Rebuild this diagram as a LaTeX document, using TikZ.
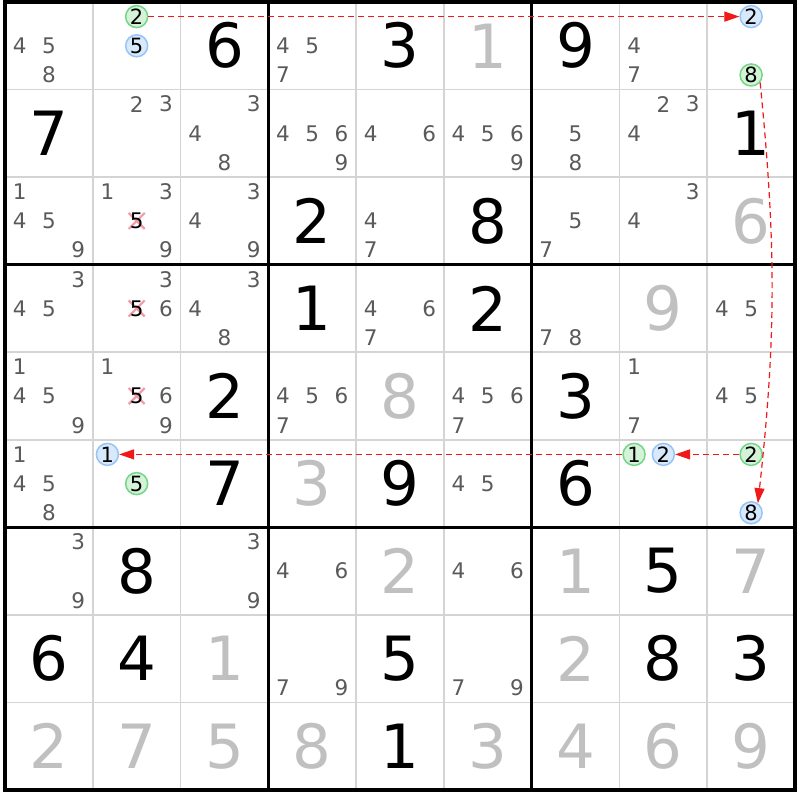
\documentclass[tikz,border=0pt]{standalone}
\usepackage{fontspec}
\setmainfont{DejaVu Sans}
\usetikzlibrary{arrows.meta}

\definecolor{candgray}{HTML}{5A5A5A}
\definecolor{solvedgray}{HTML}{C0C0C0}
\definecolor{gridgray}{HTML}{D4D4D4}
\definecolor{ongreen}{HTML}{D4F3D8}
\definecolor{ongreenline}{HTML}{74D686}
\definecolor{onblue}{HTML}{D8E9FC}
\definecolor{onblueline}{HTML}{96C4F6}
\definecolor{crosspink}{HTML}{F29AA6}
\definecolor{linkred}{HTML}{F01818}

\begin{document}
\begin{tikzpicture}[x=1pt, y=-1pt,
    big/.style={inner sep=0pt, font=\fontsize{61}{61}\selectfont},
    given/.style={big, text=black},
    solved/.style={big, text=solvedgray},
    cand/.style={inner sep=0pt, font=\fontsize{21.5}{21.5}\selectfont, text=candgray},
    oncircle/.style={circle, inner sep=0pt, minimum size=22pt, line width=1.5pt,
      font=\fontsize{21}{21}\selectfont},
    greenon/.style={oncircle, draw=ongreenline, fill=ongreen},
    blueon/.style={oncircle, draw=onblueline, fill=onblue},
    link/.style={draw=linkred, line width=1.2pt, dash pattern=on 6pt off 4pt,
      -{Triangle[length=15pt, width=10pt]}}]
  \useasboundingbox[fill=white] (0,0) rectangle (800,800);
  % grid
  \foreach \i in {1,2,4,5,7,8} {
    \draw[gridgray, line width=1.8pt] ({5+\i*87.78},2) -- ({5+\i*87.78},790);
    \draw[gridgray, line width=1.8pt] (5,{2+\i*87.56}) -- (795,{2+\i*87.56});
  }
  \foreach \i in {3,6} {
    \draw[line width=3pt] ({5+\i*87.78},2) -- ({5+\i*87.78},790);
    \draw[line width=3pt] (5,{2+\i*87.56}) -- (795,{2+\i*87.56});
  }
  \draw[line width=4pt] (5,2) rectangle (795,790);
  % givens and solved cells
  \foreach \r/\c/\d in {1/3/6, 1/5/3, 1/7/9, 2/1/7, 2/9/1, 3/4/2, 3/6/8, 4/4/1,
      4/6/2, 5/3/2, 5/7/3, 6/3/7, 6/5/9, 6/7/6, 7/2/8, 7/8/5, 8/1/6, 8/2/4,
      8/5/5, 8/8/8, 8/9/3, 9/5/1}
    \node[given] (g\r\c) at ({5+(\c-0.5)*87.78},{2+(\r-0.5)*87.56}) {\d};
  \foreach \r/\c/\d in {1/6/1, 3/9/6, 4/8/9, 5/5/8, 6/4/3, 7/5/2, 7/7/1, 7/9/7,
      8/3/1, 8/7/2, 9/1/2, 9/2/7, 9/3/5, 9/4/8, 9/6/3, 9/7/4, 9/8/6, 9/9/9}
    \node[solved] (s\r\c) at ({5+(\c-0.5)*87.78},{2+(\r-0.5)*87.56}) {\d};
  % candidates
  \foreach \r/\c/\ds in {1/1/{4,5,8}, 1/4/{4,5,7}, 1/8/{4,7},
      2/2/{2,3}, 2/3/{3,4,8}, 2/4/{4,5,6,9}, 2/5/{4,6}, 2/6/{4,5,6,9}, 2/7/{5,8}, 2/8/{2,3,4},
      3/1/{1,4,5,9}, 3/2/{1,3,9}, 3/3/{3,4,9}, 3/5/{4,7}, 3/7/{5,7}, 3/8/{3,4},
      4/1/{3,4,5}, 4/2/{3,6}, 4/3/{3,4,8}, 4/5/{4,6,7}, 4/7/{7,8}, 4/9/{4,5},
      5/1/{1,4,5,9}, 5/2/{1,6,9}, 5/4/{4,5,6,7}, 5/6/{4,5,6,7}, 5/8/{1,7}, 5/9/{4,5},
      6/1/{1,4,5,8}, 6/6/{4,5},
      7/1/{3,9}, 7/3/{3,9}, 7/4/{4,6}, 7/6/{4,6},
      8/4/{7,9}, 8/6/{7,9}}
    \foreach \d in \ds
      \node[cand] (k\r\c\d) at ({5+(\c-1)*87.78+(mod(\d-1,3)+0.5)*29.26},
        {2+(\r-1)*87.56+(int((\d-1)/3)+0.5)*29.19}) {\d};
  % eliminated candidates
  \foreach \r/\c/\d in {3/2/5, 4/2/5, 5/2/5} {
    \coordinate (x\r\c\d) at ({5+(\c-1)*87.78+(mod(\d-1,3)+0.5)*29.26},
      {2+(\r-1)*87.56+(int((\d-1)/3)+0.5)*29.19});
    \draw[crosspink, line width=2.2pt] (x\r\c\d) ++(-8,-8) -- ++(16,16)
      (x\r\c\d) ++(-8,8) -- ++(16,-16);
    \node[cand, text=black] at (x\r\c\d) {\d};
  }
  % chain
  \foreach \r/\c/\d/\s in {1/2/2/greenon, 1/2/5/blueon, 1/9/2/blueon, 1/9/8/greenon,
      6/2/1/blueon, 6/2/5/greenon, 6/8/1/greenon, 6/8/2/blueon, 6/9/2/greenon, 6/9/8/blueon}
    \node[\s] (k\r\c\d) at ({5+(\c-1)*87.78+(mod(\d-1,3)+0.5)*29.26},
      {2+(\r-1)*87.56+(int((\d-1)/3)+0.5)*29.19}) {\d};
  \draw[link] (k122) -- (k192);
  \draw[link] (k198.-40) to[bend left=6] (k698.55);
  \draw[link] (k692) -- (k682);
  \draw[link] (k681) -- (k621);
\end{tikzpicture}
\end{document}
